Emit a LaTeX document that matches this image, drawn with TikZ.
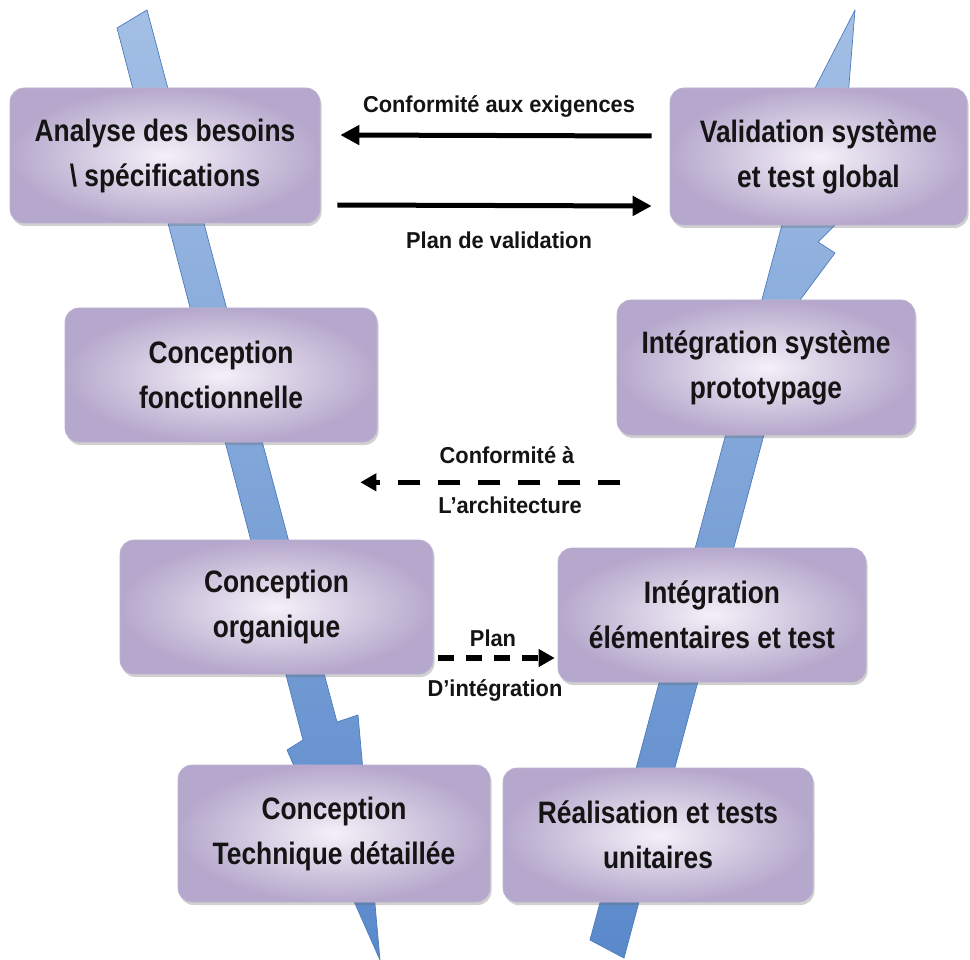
\documentclass[tikz,border=0pt]{standalone}
\usepackage{fontspec}
\newfontfamily\boxfont[FakeStretch=0.85]{Liberation Sans Bold}
\newfontfamily\labfont[FakeStretch=0.95]{Liberation Sans Bold}
\usetikzlibrary{arrows.meta,shadows,calc}
\definecolor{bandlight}{HTML}{A3BFE5}
\definecolor{banddark}{HTML}{5A89CB}
\definecolor{bandedge}{HTML}{4C7BBE}
\definecolor{boxin}{HTML}{F4F0F8}
\definecolor{boxout}{HTML}{B6A8CC}
\definecolor{boxedge}{HTML}{BDB2D0}
\definecolor{txt}{HTML}{141414}
\tikzset{
  band/.style={top color=bandlight, bottom color=banddark, draw=bandedge, line width=0.7pt, line join=round},
  phase/.style={rounded corners=14pt, inner color=boxin, outer color=boxout, draw=boxedge, line width=0.6pt,
    drop shadow={shadow xshift=1.5pt, shadow yshift=-3pt, opacity=0.3, fill=black!60},
    align=center, text=txt, font=\boxfont\fontsize{31}{45}\selectfont, inner sep=0pt},
  lbl/.style={text=txt, font=\labfont\fontsize{23}{30}\selectfont, align=center, inner sep=0pt},
  solidarrow/.style={line width=5pt, -{Triangle[length=19pt,width=19pt]}},
  dasharrow/.style={line width=5.5pt, -{Triangle[length=16pt,width=17pt]}}
}
\begin{document}
\begin{tikzpicture}[x=1pt,y=-1pt]
\useasboundingbox (0,0) rectangle (970,960);
\fill[white] (0,0) rectangle (970,960);
% blue bands
\path[band] (117,28) -- (147,10) -- (337,722) -- (358,715) -- (380,960) -- (287,750) -- (303,740) -- cycle;
\path[band] (590,940) -- (624,958) -- (800,300) -- (835,253) -- (818,242) -- (838,222) -- (855,10)
  -- (815,88) -- (755,205) -- (786,210) -- cycle;
% boxes
\node[phase, minimum width=310pt, minimum height=135pt] (b1) at (165,155.5) {Analyse des besoins\\\textbackslash{} spécifications};
\node[phase, minimum width=297pt, minimum height=137pt] (b2) at (818.5,156.5) {Validation système\\et test global};
\node[phase, minimum width=312pt, minimum height=134pt] (b3) at (221,375) {Conception\\fonctionnelle};
\node[phase, minimum width=298pt, minimum height=135pt] (b4) at (766,367.5) {Intégration système\\prototypage};
\node[phase, minimum width=313pt, minimum height=134pt] (b5) at (276.5,607) {Conception\\organique};
\node[phase, minimum width=308pt, minimum height=134pt] (b6) at (712,615) {Intégration\\élémentaires et test};
\node[phase, minimum width=312pt, minimum height=137pt] (b7) at (334,833.5) {Conception\\Technique détaillée};
\node[phase, minimum width=310pt, minimum height=134pt] (b8) at (658,835) {Réalisation et tests\\unitaires};
% connectors
\draw[solidarrow] ([xshift=-18pt,yshift=20.5pt]b2.west) -- ([xshift=20pt,yshift=20.5pt]b1.east);
\draw[solidarrow] ([xshift=17pt,yshift=-49.5pt]b1.east) -- ([xshift=-18pt,yshift=-49.5pt]b2.west);
\draw[dasharrow, dash pattern=on 22pt off 18pt] ([xshift=3pt,yshift=-47pt]b4.south west) -- ([xshift=-17pt,yshift=-40pt]b3.south east);
\draw[dasharrow, dash pattern=on 16pt off 12pt] ([xshift=5pt,yshift=-51pt]b5.east) -- ([xshift=-3pt,yshift=-43pt]b6.west);
% labels
\node[lbl] (l1) at (499,107) {Conformité aux exigences};
\node[lbl] (l2) at (499,240) {Plan de validation};
\node[lbl] (l3) at (507,455) {Conformité à};
\node[lbl] (l4) at (510,505) {L’architecture};
\node[lbl] (l5) at (493,638) {Plan};
\node[lbl] (l6) at (495,690) {D’intégration};
\end{tikzpicture}
\end{document}
